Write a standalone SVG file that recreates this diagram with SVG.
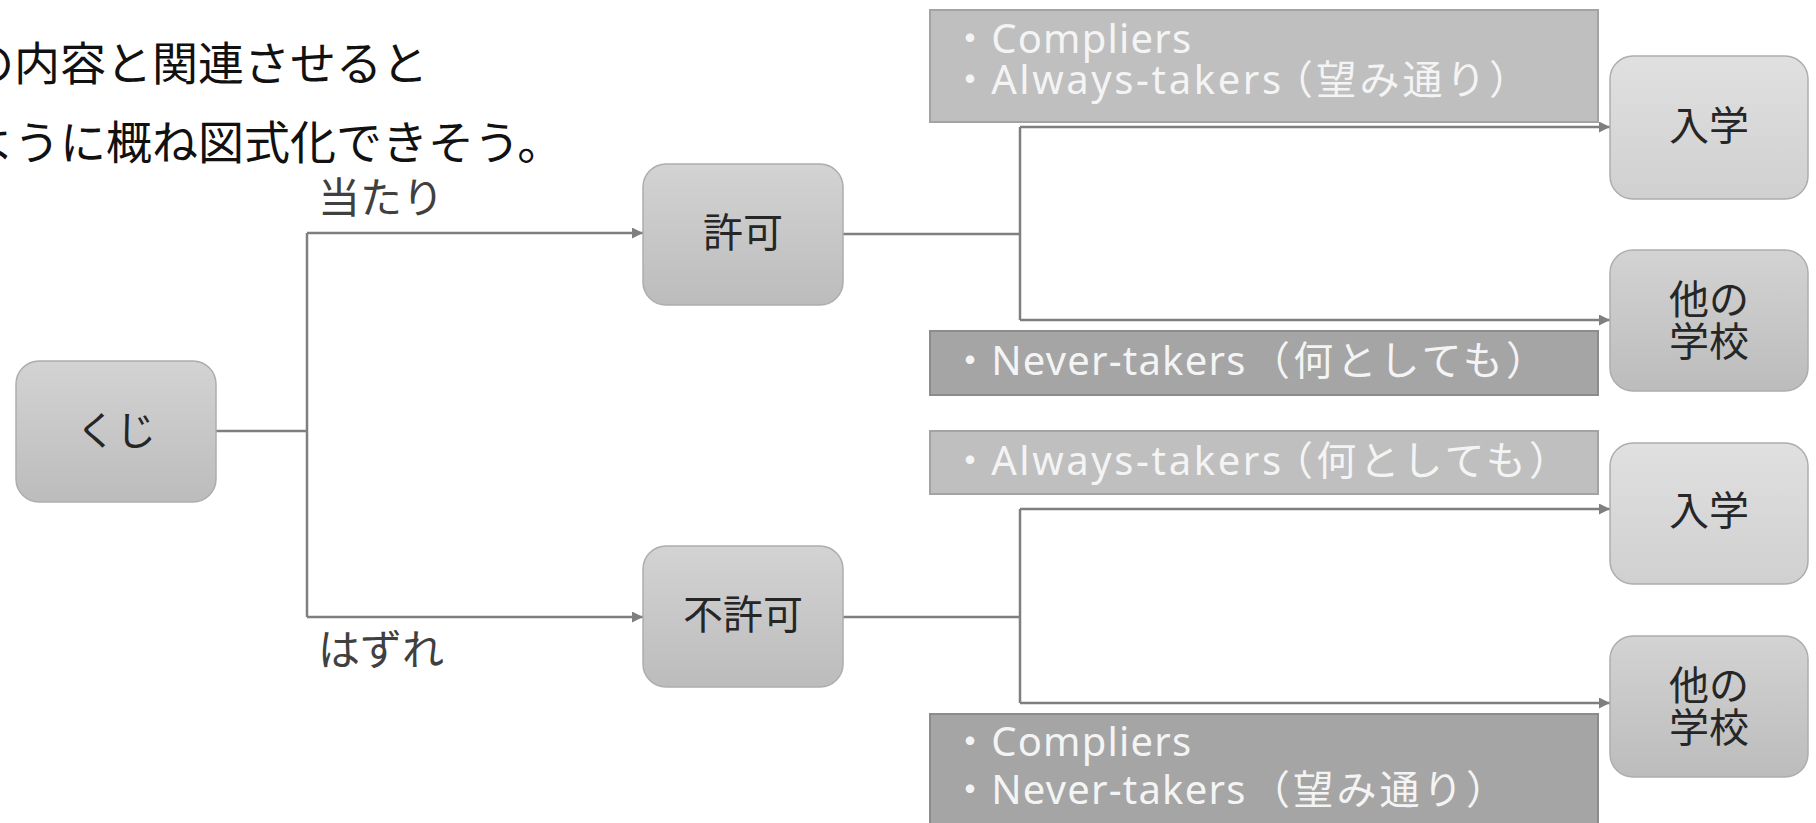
<svg xmlns="http://www.w3.org/2000/svg" width="1816" height="823" viewBox="0 0 1816 823">
<defs>
<linearGradient id="gDark" x1="0" y1="0" x2="0" y2="1">
<stop offset="0" stop-color="#d3d3d3"/>
<stop offset="1" stop-color="#bcbcbc"/>
</linearGradient>
<linearGradient id="gLight" x1="0" y1="0" x2="0" y2="1">
<stop offset="0" stop-color="#e0e0e0"/>
<stop offset="1" stop-color="#d0d0d0"/>
</linearGradient>
<marker id="arr" viewBox="0 0 10 10" refX="10" refY="5" markerWidth="11" markerHeight="11" markerUnits="userSpaceOnUse" orient="auto">
<path d="M0,0 L10,5 L0,10 z" fill="#7f7f7f"/>
</marker>
<style>
.node{stroke:#adadad;stroke-width:1.5}
.dk{fill:url(#gDark)}
.lt{fill:url(#gLight)}
.nt{font-family:"Noto Sans CJK JP","Noto Sans",sans-serif;font-size:40px;fill:#262626;text-anchor:middle}
.lbl{font-family:"Noto Sans CJK JP","Noto Sans",sans-serif;font-size:42px;fill:#404040}
.head{font-family:"Noto Sans CJK JP","Noto Sans",sans-serif;font-size:46px;fill:#111111}
.bx1{fill:#bfbfbf;stroke:#a3a3a3;stroke-width:2}
.bx2{fill:#a5a5a5;stroke:#8c8c8c;stroke-width:2}
.bt{font-family:"Noto Sans","Noto Sans CJK JP",sans-serif;font-size:40px;fill:#f4f4f4;letter-spacing:1.2px}
.aw{letter-spacing:2.6px}
.jp{letter-spacing:3.2px}
.c{fill:none;stroke:#7f7f7f;stroke-width:2.5}
</style>
</defs>
<rect width="1816" height="823" fill="#ffffff"/>

<g id="heading">
<text class="head" x="-32" y="80">の内容と関連させると</text>
<text class="head" x="-32" y="159">ように概ね図式化できそう。</text>
</g>

<g id="group-boxes">
<g id="box-allow-enroll">
<rect class="bx1" x="930" y="10" width="668" height="112"/>
<text class="bt" x="950" y="53">・Compliers</text>
<text class="bt" x="950" y="94">・<tspan class="aw">Always-takers</tspan><tspan class="jp" x="1273">（望み通り）</tspan></text>
</g>
<g id="box-allow-other">
<rect class="bx2" x="930" y="331" width="668" height="64"/>
<text class="bt" x="950" y="375">・Never-takers<tspan class="jp" x="1250">（何としても）</tspan></text>
</g>
<g id="box-deny-enroll">
<rect class="bx1" x="930" y="431" width="668" height="63"/>
<text class="bt" x="950" y="475">・<tspan class="aw">Always-takers</tspan><tspan class="jp" x="1273">（何としても）</tspan></text>
</g>
<g id="box-deny-other">
<rect class="bx2" x="930" y="714" width="668" height="120"/>
<text class="bt" x="950" y="756">・Compliers</text>
<text class="bt" x="950" y="804">・Never-takers<tspan class="jp" x="1250">（望み通り）</tspan></text>
</g>
</g>

<g id="connectors">
<path class="c" d="M216,431 H307"/>
<path class="c" d="M307,233 V617"/>
<path class="c" d="M307,233 H643" marker-end="url(#arr)"/>
<path class="c" d="M307,617 H643" marker-end="url(#arr)"/>
<path class="c" d="M843,234 H1020"/>
<path class="c" d="M1020,127 V320"/>
<path class="c" d="M1020,127 H1610" marker-end="url(#arr)"/>
<path class="c" d="M1020,320 H1610" marker-end="url(#arr)"/>
<path class="c" d="M843,617 H1020"/>
<path class="c" d="M1020,509 V703"/>
<path class="c" d="M1020,509 H1610" marker-end="url(#arr)"/>
<path class="c" d="M1020,703 H1610" marker-end="url(#arr)"/>
</g>

<g id="edge-labels">
<text class="lbl" x="318" y="213">当たり</text>
<text class="lbl" x="318" y="665">はずれ</text>
</g>

<g id="node-kuji">
<rect class="node dk" x="16" y="361" width="200" height="141" rx="23"/>
<text class="nt" x="116" y="445">くじ</text>
</g>
<g id="node-kyoka">
<rect class="node dk" x="643" y="164" width="200" height="141" rx="23"/>
<text class="nt" x="743" y="247">許可</text>
</g>
<g id="node-fukyoka">
<rect class="node dk" x="643" y="546" width="200" height="141" rx="23"/>
<text class="nt" x="743" y="629">不許可</text>
</g>
<g id="node-enroll-1">
<rect class="node lt" x="1610" y="56" width="198" height="143" rx="23"/>
<text class="nt" x="1709" y="140">入学</text>
</g>
<g id="node-other-1">
<rect class="node dk" x="1610" y="250" width="198" height="141" rx="23"/>
<text class="nt" x="1709" y="314">他の</text>
<text class="nt" x="1709" y="356">学校</text>
</g>
<g id="node-enroll-2">
<rect class="node lt" x="1610" y="443" width="198" height="141" rx="23"/>
<text class="nt" x="1709" y="525">入学</text>
</g>
<g id="node-other-2">
<rect class="node dk" x="1610" y="636" width="198" height="141" rx="23"/>
<text class="nt" x="1709" y="700">他の</text>
<text class="nt" x="1709" y="742">学校</text>
</g>
</svg>
